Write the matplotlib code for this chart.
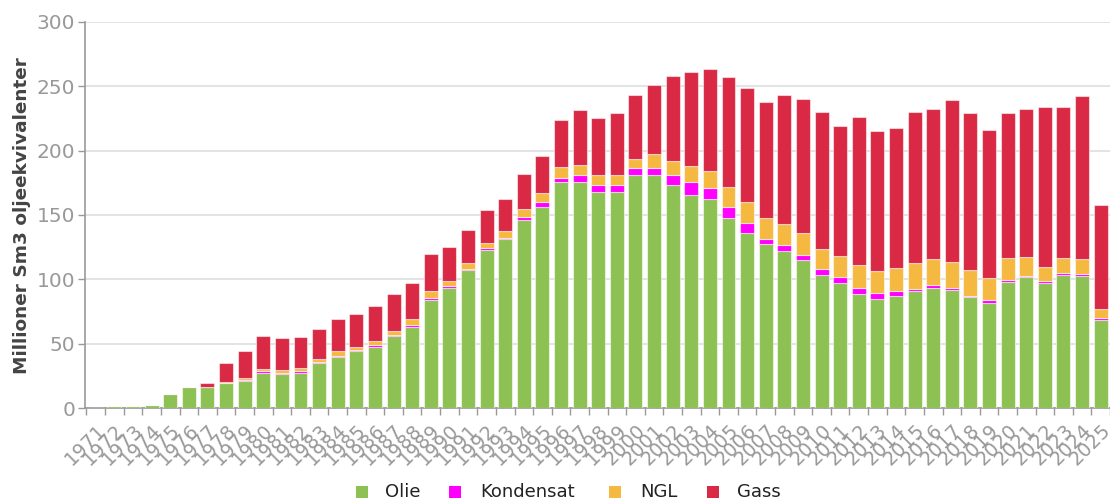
import matplotlib
matplotlib.use("Agg")
import matplotlib.pyplot as plt
from matplotlib.patches import Rectangle
import numpy as np

years = [str(y) for y in range(1971, 2026)]

olie = [0.3, 1.9, 1.9, 2.0, 10.9, 16.6, 16.6, 19.2, 20.7, 27.5,
        26.4, 27.5, 34.7, 39.9, 44.0, 47.7, 55.7, 63.2, 84.3, 93.6,
        107.6, 123.1, 131.2, 145.9, 156.3, 175.5, 175.5, 168.2, 168.2, 181.2,
        181.2, 173.6, 165.3, 162.5, 148.0, 135.8, 127.8, 122.1, 114.8, 103.7,
        97.2, 88.9, 84.5, 87.3, 91.0, 93.6, 92.0, 86.3, 81.7, 98.2,
        101.9, 97.2, 103.4, 102.9, 68.7]

kondensat = [0, 0, 0, 0, 0, 0, 0, 0.5, 1.0, 0.9,
             0.9, 0.9, 0.9, 0.9, 0.9, 1.0, 0.9, 1.2, 1.3, 1.0,
             0.8, 1.0, 1.0, 2.9, 3.6, 3.6, 5.4, 5.2, 5.2, 5.2,
             5.2, 7.3, 10.2, 8.5, 8.3, 8.3, 3.6, 4.6, 4.4, 4.6,
             4.7, 4.7, 4.7, 3.9, 1.8, 1.8, 1.6, 1.0, 2.0, 1.0,
             1.0, 1.3, 1.5, 1.1, 1.3]

ngl = [0, 0, 0, 0, 0, 0, 0, 0.2, 1.6, 1.9,
       2.0, 2.7, 2.7, 3.2, 2.8, 3.4, 3.6, 5.0, 5.2, 4.4,
       4.6, 4.5, 5.4, 6.2, 7.0, 8.1, 8.0, 7.5, 7.5, 7.5,
       10.8, 11.2, 12.6, 13.4, 15.2, 16.3, 16.3, 16.6, 16.6, 15.6,
       16.5, 17.3, 17.3, 17.9, 20.2, 20.2, 20.2, 20.0, 17.1, 17.2,
       14.5, 11.4, 11.5, 11.6, 7.0]

gass = [0, 0, 0, 0, 0, 0, 2.8, 14.8, 20.9, 25.7,
        24.9, 23.9, 23.1, 25.4, 25.6, 27.2, 28.7, 27.8, 28.7, 25.9,
        25.7, 25.6, 24.9, 26.7, 28.8, 37.0, 42.6, 44.4, 48.7, 49.7,
        53.7, 66.1, 72.8, 79.1, 85.9, 88.4, 90.0, 100.1, 104.0, 106.5,
        101.1, 115.1, 108.6, 108.3, 116.9, 116.9, 125.2, 121.6, 115.1, 112.5,
        115.1, 124.4, 117.9, 126.9, 80.9]

series_names = ["Olie", "Kondensat", "NGL", "Gass"]
colors = ["#8DC153", "#FF00FF", "#F5B942", "#D92944"]
yticks = [0, 50, 100, 150, 200, 250, 300]

W, H = 1110, 500
fig = plt.figure(figsize=(W / 100, H / 100), dpi=100)
ax = fig.add_axes([85 / W, 92 / H, (W - 85) / W, 386 / H])

x = np.arange(len(years))
bottom = np.zeros(len(years))
for vals, c in zip([olie, kondensat, ngl, gass], colors):
    v = np.array(vals, dtype=float)
    ax.bar(x, v, bottom=bottom, width=0.75, color=c,
           edgecolor=(1, 1, 1, 0.55), linewidth=0.8, zorder=3)
    bottom += v

ax.set_xlim(-0.58, 54.05)
ax.set_ylim(0, 300)

ax.set_yticks(yticks)
ax.set_yticklabels([str(t) for t in yticks])
ax.yaxis.grid(True, color="#e3e3e3", linewidth=1.4, zorder=0)
ax.set_axisbelow(True)

ax.set_xticks(x)
ax.set_xticklabels(years, rotation=45, ha="right", va="top",
                   rotation_mode="anchor")
ax.set_xticks(np.arange(len(years) + 1) - 0.5, minor=True)
ax.tick_params(axis="x", which="major", length=0, pad=9,
               labelsize=14, labelcolor="#999999")
ax.tick_params(axis="x", which="minor", length=5, color="#999999", width=1)
ax.tick_params(axis="y", length=5, color="#999999", width=1,
               labelsize=14.5, labelcolor="#999999", pad=2)

for s in ["top", "right"]:
    ax.spines[s].set_visible(False)
ax.spines["left"].set_color("#999999")
ax.spines["left"].set_linewidth(1.2)
ax.spines["bottom"].set_color("#999999")
ax.spines["bottom"].set_linewidth(1.2)

fig.text(22 / W, (H - 216) / H, "Millioner Sm3 oljeekvivalenter", rotation=90,
         ha="center", va="center", fontsize=13.3, fontweight="bold",
         color="#444444")

# manual legend
sq_left = [356, 449, 609, 707]
txt_left = [385, 480, 640, 737]
yc = 492
sq = 12
for name, c, sl, tl in zip(series_names, colors, sq_left, txt_left):
    fig.add_artist(Rectangle((sl / W, (H - yc - sq / 2) / H), sq / W, sq / H,
                             transform=fig.transFigure, facecolor=c,
                             edgecolor="none"))
    fig.text(tl / W, (H - yc) / H, name, ha="left", va="center",
             fontsize=13, color="#222222")

fig.savefig("out.png", dpi=100)
